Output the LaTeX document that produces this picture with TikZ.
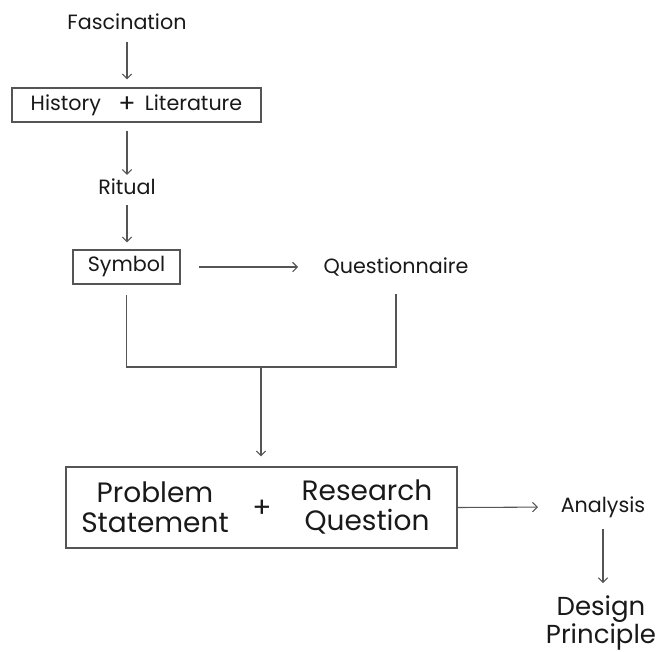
\documentclass[tikz,border=0pt]{standalone}
\usepackage{fontspec}
\setmainfont{Poppins}
\usetikzlibrary{arrows.meta}

\tikzset{every picture/.style={line width=0.75pt}}

\begin{document}
\begin{tikzpicture}[x=0.75pt,y=0.75pt,yscale=-1,xscale=1,
  txt/.style={inner sep=0.75pt, font=\fontsize{15.5}{17}\selectfont, text={rgb,255:red,25;green,25;blue,25}},
  bigtxt/.style={inner sep=0.75pt, font=\fontsize{21}{22.5}\selectfont, align=center, text={rgb,255:red,25;green,25;blue,25}},
  bx/.style={draw={rgb,255:red,85;green,85;blue,85}, line width=0.8, inner sep=0pt},
  ln/.style={draw={rgb,255:red,85;green,85;blue,85}, line width=0.8},
  arr/.style={ln, -{Straight Barb[length=3.5pt,width=7pt]}}]
\path[use as bounding box] (0,0) rectangle (668,651);

% Text Node
\node [txt] (fas) at (127,22) {Fascination};
% Boxes
\node [bx, txt, minimum width=186.75pt, minimum height=25.5pt] (hl) at (136.5,105) {History\hspace{13pt}\raisebox{-1.5pt}{\fontsize{19}{19}\selectfont +}\hspace{7pt}Literature};
% Text Node
\node [txt] (rit) at (127,187) {Ritual};
\node [bx, txt, minimum width=80.25pt, minimum height=25.5pt] (sym) at (126.5,267) {Symbol};
% Text Node
\node [txt] (que) at (396,267) {Questionnaire};
\coordinate (j) at (261,367);

% Big box
\node [bx, minimum width=293.25pt, minimum height=60.75pt] (prb) at (261.5,507.5) {};
\node [bigtxt] (pst) at (155,507) {Problem\\Statement};
\node [bigtxt] (pls) at (262,509) {+};
\node [bigtxt] (rq) at (367,507) {Research\\Question};

% Text Node
\node [txt] (ana) at (603,507) {Analysis};
\node [bigtxt, font=\fontsize{19.5}{21.5}\selectfont] (dp) at (601,623) {Design\\Principle};

% Connectors
\draw [arr, shorten <=8pt, shorten >=6pt] (fas.south) -- (fas.south |- hl.north);
\draw [arr, shorten <=6pt, shorten >=2pt] (rit.north |- hl.south) -- (rit.north);
\draw [arr, shorten <=6.5pt, shorten >=5.25pt] (rit.south) -- (rit.south |- sym.north);
\draw [arr, shorten <=14pt, shorten >=18pt] (sym) -- (que);
\draw [ln, shorten <=7.5pt, shorten >=12pt] (sym.south) |- (j) -| (que.south);
\draw [arr, shorten >=7.5pt] (j) -- (j |- prb.north);
\draw [arr, shorten >=16pt] (prb.east) -- (ana.west);
\draw [arr, shorten <=7.5pt, shorten >=8pt] (ana.south) -- (ana.south |- dp.north);

\end{tikzpicture}
\end{document}
